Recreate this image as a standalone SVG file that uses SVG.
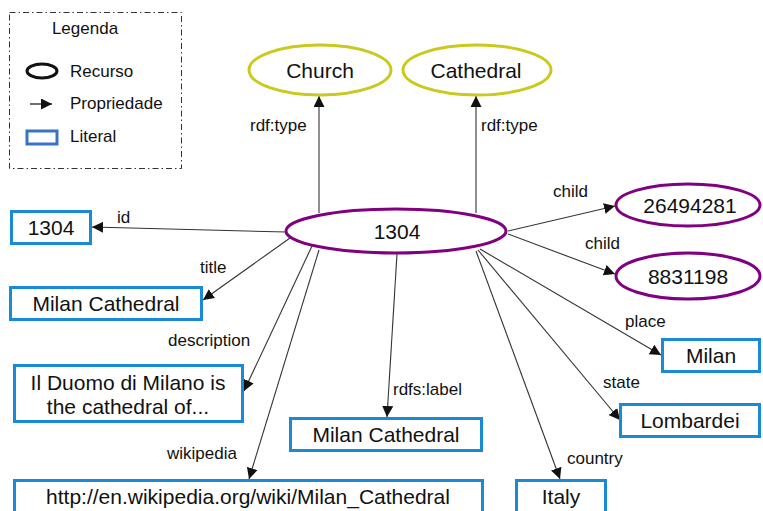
<svg xmlns="http://www.w3.org/2000/svg" width="763" height="511" viewBox="0 0 763 511">
  <defs>
    <marker id="arrow" viewBox="0 0 10 10" refX="10" refY="5" markerWidth="11" markerHeight="11" markerUnits="userSpaceOnUse" orient="auto">
      <path d="M0,0 L10,5 L0,10 Z" fill="#111"/>
    </marker>
  </defs>
  <style>
    text { font-family: "Liberation Sans", Arial, sans-serif; fill: #111; }
    .node { font-size: 21px; text-anchor: middle; }
    .lbl { font-size: 17px; }
    .res { fill: #fff; stroke: #800080; stroke-width: 3; }
    .cls { fill: #fff; stroke: #c9c91e; stroke-width: 3; }
    .lit { fill: #fff; stroke: #1a8ad4; stroke-width: 3; }
    .edge { stroke: #333; stroke-width: 1.1; fill: none; marker-end: url(#arrow); }
  </style>
  <rect width="763" height="511" fill="#fff"/>

  <!-- legend -->
  <g id="legend">
    <rect x="9.5" y="12.5" width="172" height="156" fill="none" stroke="#333" stroke-width="1" stroke-dasharray="6,3,1.5,3"/>
    <text class="lbl" x="85" y="34" text-anchor="middle">Legenda</text>
    <ellipse cx="42" cy="71" rx="15" ry="7" fill="none" stroke="#111" stroke-width="3"/>
    <text class="lbl" x="70" y="77">Recurso</text>
    <line x1="30" y1="104" x2="52" y2="104" stroke="#111" stroke-width="1.2" marker-end="url(#arrow)"/>
    <text class="lbl" x="70" y="109">Propriedade</text>
    <rect x="27" y="131" width="30" height="13" fill="none" stroke="#3a72c4" stroke-width="3"/>
    <text class="lbl" x="70" y="142">Literal</text>
  </g>

  <!-- connectors -->
  <g id="connectors">
    <line class="edge" x1="319" y1="213" x2="319" y2="96"/>
    <line class="edge" x1="476" y1="213" x2="476" y2="96"/>
    <line class="edge" x1="286" y1="232" x2="92" y2="227"/>
    <line class="edge" x1="290" y1="238" x2="203" y2="300"/>
    <line class="edge" x1="312" y1="246" x2="244" y2="391"/>
    <line class="edge" x1="319" y1="250" x2="249" y2="479"/>
    <line class="edge" x1="397" y1="254" x2="387" y2="417"/>
    <line class="edge" x1="508" y1="231" x2="615" y2="206"/>
    <line class="edge" x1="508" y1="234" x2="615" y2="274"/>
    <line class="edge" x1="480" y1="249" x2="661" y2="355"/>
    <line class="edge" x1="478" y1="250" x2="620" y2="420"/>
    <line class="edge" x1="476" y1="251" x2="560" y2="479"/>
    <text class="lbl" x="250" y="131">rdf:type</text>
    <text class="lbl" x="481" y="131">rdf:type</text>
    <text class="lbl" x="117" y="223">id</text>
    <text class="lbl" x="200" y="273">title</text>
    <text class="lbl" x="168" y="346">description</text>
    <text class="lbl" x="167" y="459">wikipedia</text>
    <text class="lbl" x="393" y="395">rdfs:label</text>
    <text class="lbl" x="553" y="197">child</text>
    <text class="lbl" x="585" y="249">child</text>
    <text class="lbl" x="625" y="327">place</text>
    <text class="lbl" x="603" y="388">state</text>
    <text class="lbl" x="567" y="464">country</text>
  </g>

  <!-- resource nodes -->
  <g id="church">
    <ellipse class="cls" cx="320" cy="70" rx="71" ry="25"/>
    <text class="node" x="320" y="78">Church</text>
  </g>
  <g id="cathedral">
    <ellipse class="cls" cx="477" cy="70" rx="74" ry="25"/>
    <text class="node" x="476" y="78">Cathedral</text>
  </g>
  <g id="milan-cathedral">
    <ellipse class="res" cx="396" cy="231" rx="110" ry="22"/>
    <text class="node" x="397" y="239">1304</text>
  </g>
  <g id="child-26494281">
    <ellipse class="res" cx="688" cy="205" rx="72" ry="21"/>
    <text class="node" x="690" y="213">26494281</text>
  </g>
  <g id="child-8831198">
    <ellipse class="res" cx="688" cy="276" rx="72" ry="23"/>
    <text class="node" x="688" y="284">8831198</text>
  </g>

  <!-- literal nodes -->
  <g id="lit-id">
    <rect class="lit" x="11.5" y="211.5" width="79" height="32"/>
    <text class="node" x="51" y="235">1304</text>
  </g>
  <g id="lit-title">
    <rect class="lit" x="10.5" y="287.5" width="191" height="32"/>
    <text class="node" x="106" y="311">Milan Cathedral</text>
  </g>
  <g id="lit-description">
    <rect class="lit" x="14.5" y="365.5" width="228" height="56"/>
    <text class="node" x="128" y="390">Il Duomo di Milano is</text>
    <text class="node" x="128" y="414">the cathedral of...</text>
  </g>
  <g id="lit-wikipedia">
    <rect class="lit" x="14.5" y="480.5" width="468" height="40"/>
    <text class="node" x="248" y="504">http://en.wikipedia.org/wiki/Milan_Cathedral</text>
  </g>
  <g id="lit-label">
    <rect class="lit" x="290.5" y="418.5" width="191" height="32"/>
    <text class="node" x="386" y="442">Milan Cathedral</text>
  </g>
  <g id="lit-italy">
    <rect class="lit" x="516.5" y="480.5" width="89" height="40"/>
    <text class="node" x="561" y="504">Italy</text>
  </g>
  <g id="lit-lombardei">
    <rect class="lit" x="620.5" y="404.5" width="139" height="32"/>
    <text class="node" x="690" y="428">Lombardei</text>
  </g>
  <g id="lit-milan">
    <rect class="lit" x="662.5" y="339.5" width="97" height="32"/>
    <text class="node" x="711" y="363">Milan</text>
  </g>
</svg>
